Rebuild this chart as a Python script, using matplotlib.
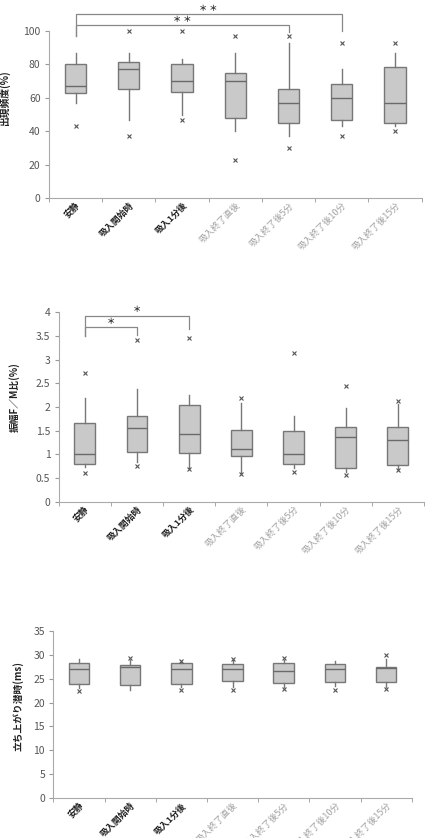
import matplotlib
matplotlib.use("Agg")
import matplotlib.pyplot as plt

plt.rcParams['font.family'] = ['Noto Sans CJK JP', 'DejaVu Sans']

labels = ["安静", "吸入開始時", "吸入1分後", "吸入終了直後",
          "吸入終了後5分", "吸入終了後10分", "吸入終了後15分"]

# chart 1: 出現頻度(%)
freq_whislo = [57, 47, 50, 40, 37, 43, 43]
freq_q1 = [62.7, 65, 63.5, 48, 45, 46.8, 45]
freq_med = [67, 77, 70, 70, 57, 60, 57]
freq_q3 = [80, 81.5, 80, 75, 65, 68.5, 78.5]
freq_whishi = [87, 87, 83, 87, 93, 77, 87]
freq_fliers = [[43], [37, 100], [47, 100], [23, 97], [30, 97], [37, 93], [40, 93]]

# chart 2: 振幅F/M比(%)
amp_whislo = [0.74, 0.83, 0.72, 0.60, 0.72, 0.63, 0.70]
amp_q1 = [0.80, 1.06, 1.02, 0.96, 0.80, 0.72, 0.78]
amp_med = [1.00, 1.56, 1.43, 1.12, 1.00, 1.36, 1.30]
amp_q3 = [1.655, 1.81, 2.04, 1.52, 1.49, 1.58, 1.58]
amp_whishi = [2.19, 2.39, 2.25, 2.08, 1.82, 1.97, 2.06]
amp_fliers = [[0.60, 2.72], [0.76, 3.42], [0.70, 3.45], [0.58, 2.19],
              [0.63, 3.14], [0.56, 2.44], [0.67, 2.13]]

# chart 3: 立ち上がり潜時(ms)
lat_whislo = [23.0, 22.6, 23.2, 23.3, 23.2, 23.5, 23.3]
lat_q1 = [23.9, 23.7, 23.9, 24.4, 24.0, 24.35, 24.2]
lat_med = [26.9, 27.35, 26.9, 26.9, 26.65, 27.1, 27.2]
lat_q3 = [28.25, 27.9, 28.2, 28.0, 28.25, 28.1, 27.5]
lat_whishi = [29.0, 28.9, 28.5, 28.9, 28.9, 28.7, 29.0]
lat_fliers = [[22.5], [29.2], [22.6, 28.7], [22.6, 29.1], [22.75, 29.2],
              [22.6], [22.75, 29.9]]

# significance brackets: (from idx, to idx, bar y, left leg y, right leg y, text)
freq_sig = [(0, 5, 110, 97, 100, "＊ ＊"), (0, 4, 103.6, 97, 99.6, "＊ ＊")]
amp_sig = [(0, 2, 3.93, 3.5, 3.64, "＊"), (0, 1, 3.69, 3.5, 3.52, "＊")]

BOX_FILL = "#c9c9c9"
EDGE = "#777777"


def make_stats(lo, q1, med, q3, hi, fl):
    return [dict(whislo=a, q1=b, med=c, q3=d, whishi=e, fliers=f)
            for a, b, c, d, e, f in zip(lo, q1, med, q3, hi, fl)]


def draw(ax, stats, ylim, yticks, ylabel, label_xy, sig=None):
    ax.bxp(stats, positions=range(len(stats)), widths=0.4,
           patch_artist=True, showcaps=False,
           boxprops=dict(facecolor=BOX_FILL, edgecolor=EDGE, linewidth=1.0),
           medianprops=dict(color="#6a6a6a", linewidth=1.0),
           whiskerprops=dict(color=EDGE, linewidth=1.0),
           flierprops=dict(marker="x", markersize=2.5, markeredgecolor="#555555",
                           markeredgewidth=0.8, clip_on=False))
    ax.set_xlim(-0.5, len(stats) - 0.5)
    ax.set_ylim(*ylim)
    ax.set_yticks(yticks)
    ax.set_yticklabels([("%g" % t) for t in yticks], fontsize=7.5, color="#555555")
    ax.set_xticks([i + 0.5 for i in range(-1, len(stats))], minor=True)
    ax.set_xticks(range(len(stats)))
    ax.tick_params(axis="x", which="major", length=0, pad=2)
    ax.tick_params(axis="x", which="minor", length=3, color="#999999")
    ax.tick_params(axis="y", length=3, color="#999999", pad=3)
    ax.set_xticklabels(labels, rotation=45, ha="right", rotation_mode="anchor",
                       fontsize=6.4)
    for i, t in enumerate(ax.get_xticklabels()):
        if i < 3:
            t.set_color("#222222")
            t.set_fontweight("bold")
        else:
            t.set_color("#a0a0a0")
    for s in ("top", "right"):
        ax.spines[s].set_visible(False)
    for s in ("left", "bottom"):
        ax.spines[s].set_color("#aaaaaa")
    ax.set_ylabel(ylabel, fontsize=7, fontweight="bold", color="#222222")
    ax.yaxis.label.set_va("center")
    ax.yaxis.set_label_coords(*label_xy)
    if sig:
        span = ylim[1] - ylim[0]
        for a, b, y, ya, yb, txt in sig:
            ax.plot([a, a, b, b], [ya, y, y, yb], color="#888888", lw=0.9,
                    clip_on=False)
            ax.text((a + b) / 2, y + span * 0.008, txt, ha="center", va="bottom",
                    fontsize=6, fontweight="bold", color="#333333", clip_on=False)


fig = plt.figure(figsize=(4.29, 8.38), dpi=100)

ax1 = fig.add_axes([0.114, 0.7637, 0.869, 0.1993])
draw(ax1, make_stats(freq_whislo, freq_q1, freq_med, freq_q3, freq_whishi, freq_fliers),
     (0, 100), [0, 20, 40, 60, 80, 100], "出現頻度(%)", (-0.118, 0.6), freq_sig)

ax2 = fig.add_axes([0.1368, 0.4013, 0.8515, 0.226])
draw(ax2, make_stats(amp_whislo, amp_q1, amp_med, amp_q3, amp_whishi, amp_fliers),
     (0, 4), [0, 0.5, 1, 1.5, 2, 2.5, 3, 3.5, 4], "振幅F／M比(%)",
     (-0.12, 0.554), amp_sig)

ax3 = fig.add_axes([0.1243, 0.0474, 0.8354, 0.2])
draw(ax3, make_stats(lat_whislo, lat_q1, lat_med, lat_q3, lat_whishi, lat_fliers),
     (0, 35), [0, 5, 10, 15, 20, 25, 30, 35], "立ち上がり潜時(ms)", (-0.098, 0.549))

fig.savefig("out.png", dpi=100, facecolor="white")
